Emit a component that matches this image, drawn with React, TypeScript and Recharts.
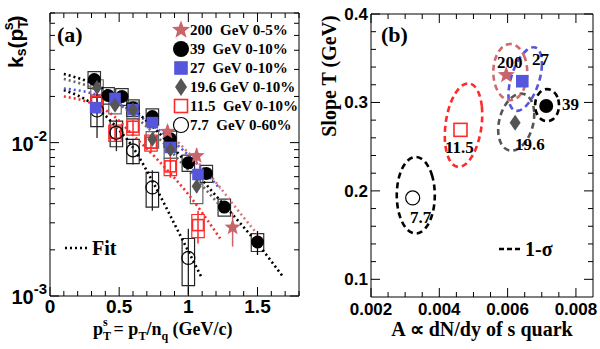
import React from 'react'
import { ComposedChart, Scatter, Line, XAxis, YAxis, ErrorBar, ReferenceArea } from 'recharts'

// ---------- panel (a): k_s vs pT/nq ----------
const PT_200 = [0.85, 1.06, 1.32]
const K_200 = [0.0118, 0.0082, 0.0028]
const STAT_200 = [0.0012, 0.001, 0.0007]

const PT_39 = [0.32, 0.42, 0.52, 0.6, 0.74, 0.87, 1.0, 1.13, 1.26, 1.5]
const K_39 = [0.0258, 0.0203, 0.02, 0.0169, 0.0148, 0.0106, 0.0074, 0.0063, 0.0038, 0.00225]
const STAT_39 = [0.0006, 0.0004, 0.0004, 0.0003, 0.0003, 0.0003, 0.0003, 0.0003, 0.0003, 0.0004]
const SYS_39 = [0.0032, 0.0025, 0.0025, 0.0021, 0.0018, 0.0013, 0.0009, 0.0008, 0.00048, 0.0003]

const PT_27 = [0.33, 0.47, 0.6, 0.74, 0.87, 1.07]
const K_27 = [0.0169, 0.0194, 0.0164, 0.0135, 0.0093, 0.0062]
const STAT_27 = [0.0008, 0.0006, 0.0005, 0.0005, 0.0004, 0.0004]

const PT_19 = [0.34, 0.47, 0.6, 0.74, 0.87, 1.06]
const K_19 = [0.0229, 0.0175, 0.0164, 0.0105, 0.009, 0.0052]
const STAT_19 = [0.0008, 0.0006, 0.0005, 0.0004, 0.0004, 0.0005]
const SYS_19 = [0.0028, 0.0021, 0.002, 0.0013, 0.0011, 0.0012]

const PT_11 = [0.34, 0.47, 0.6, 0.73, 0.87, 1.07]
const K_11 = [0.0183, 0.0116, 0.0127, 0.01, 0.007, 0.0029]
const STAT_11 = [0.003, 0.0015, 0.0014, 0.0012, 0.0011, 0.0007]
const SYS_11 = [0.0022, 0.0014, 0.0015, 0.0012, 0.0009, 0.0005]

const PT_7 = [0.34, 0.48, 0.6, 0.74, 1.0]
const K_7 = [0.0162, 0.0116, 0.0089, 0.0051, 0.00177]
const STAT_7 = [[0.0055, 0.0075], [0.0028, 0.0026], [0.0017, 0.0017], [0.0015, 0.0015], [0.00075, 0.00097]]
const SYS_7 = [0.0035, 0.0022, 0.0016, 0.0013, 0.0006]

// fit curves
const FITX_39 = [0.1, 0.3, 0.5, 0.75, 1.0, 1.25, 1.5, 1.68]
const FIT_39 = [0.028, 0.0245, 0.0195, 0.0125, 0.0072, 0.004, 0.0022, 0.00135]
const FITX_19 = [0.1, 0.3, 0.5, 0.75, 1.0, 1.25]
const FIT_19 = [0.026, 0.0228, 0.0178, 0.0115, 0.0066, 0.0037]
const FITX_27 = [0.1, 0.3, 0.5, 0.75, 1.0, 1.23]
const FIT_27 = [0.0225, 0.021, 0.0178, 0.0128, 0.0083, 0.005]
const FITX_200 = [0.85, 1.0, 1.2, 1.35, 1.52]
const FIT_200 = [0.0118, 0.0086, 0.0055, 0.0037, 0.0024]
const FITX_11 = [0.1, 0.3, 0.45, 0.6, 0.78, 1.0, 1.24]
const FIT_11 = [0.02, 0.018, 0.0152, 0.0112, 0.0077, 0.0046, 0.0023]
const FITX_7 = [0.1, 0.3, 0.45, 0.6, 0.75, 0.94, 1.1]
const FIT_7 = [0.022, 0.018, 0.0135, 0.0093, 0.0054, 0.0025, 0.0013]

const A_XTICKS = [0, 0.1, 0.2, 0.3, 0.4, 0.5, 0.6, 0.7, 0.8, 0.9, 1, 1.1, 1.2, 1.3, 1.4, 1.5, 1.6, 1.7, 1.8]
const A_XMAJOR = [0, 0.5, 1, 1.5]
const A_YTICKS = [0.001, 0.002, 0.003, 0.004, 0.005, 0.006, 0.007, 0.008, 0.009, 0.01, 0.02, 0.03, 0.04, 0.05, 0.06, 0.07]
const A_YMAJOR = [0.001, 0.01]

// ---------- panel (b): slope T vs A ----------
const B_LABELS = ['200', '39', '27', '19.6', '11.5', '7.7']
const B_A = [0.00596, 0.00713, 0.00643, 0.00622, 0.00462, 0.00322]
const B_T = [0.331, 0.296, 0.324, 0.277, 0.269, 0.192]

// 1-sigma contours
const ELL_200 = [[0.006598, 0.3343], [0.006528, 0.351], [0.006338, 0.3631], [0.006078, 0.3676], [0.005818, 0.3631], [0.005628, 0.351], [0.005558, 0.3343], [0.005628, 0.3177], [0.005818, 0.3055], [0.006078, 0.301], [0.006338, 0.3055], [0.006528, 0.3177]]
const ELL_39 = [[0.007522, 0.2969], [0.007473, 0.3064], [0.007339, 0.3134], [0.007155, 0.3159], [0.006971, 0.3134], [0.006837, 0.3064], [0.006788, 0.2969], [0.006837, 0.2874], [0.006971, 0.2804], [0.007155, 0.2779], [0.007339, 0.2804], [0.007473, 0.2874]]
const ELL_27 = [[0.006922, 0.3213], [0.007024, 0.3406], [0.006989, 0.3562], [0.006827, 0.3637], [0.006581, 0.3613], [0.006318, 0.3495], [0.006108, 0.3315], [0.006006, 0.3122], [0.006041, 0.2967], [0.006203, 0.2891], [0.006449, 0.2915], [0.006712, 0.3033]]
const ELL_19 = [[0.006754, 0.2725], [0.006802, 0.2898], [0.006702, 0.3039], [0.006482, 0.311], [0.0062, 0.3092], [0.005932, 0.2989], [0.00575, 0.2829], [0.005702, 0.2656], [0.005802, 0.2515], [0.006022, 0.2444], [0.006304, 0.2462], [0.006572, 0.2565]]
const ELL_11 = [[0.005254, 0.2713], [0.005271, 0.2964], [0.005136, 0.3156], [0.004888, 0.3237], [0.004591, 0.3186], [0.004326, 0.3016], [0.004164, 0.2773], [0.004147, 0.2522], [0.004282, 0.233], [0.00453, 0.2249], [0.004827, 0.23], [0.005092, 0.247]]
const ELL_7 = [[0.003894, 0.195], [0.003816, 0.2177], [0.003603, 0.2342], [0.003311, 0.2403], [0.00302, 0.2342], [0.002806, 0.2177], [0.002728, 0.195], [0.002806, 0.1724], [0.00302, 0.1558], [0.003311, 0.1497], [0.003603, 0.1558], [0.003816, 0.1724]]

const B_XTICKS = [0.002, 0.0025, 0.003, 0.0035, 0.004, 0.0045, 0.005, 0.0055, 0.006, 0.0065, 0.007, 0.0075, 0.008]
const B_XMAJOR = [0.002, 0.004, 0.006, 0.008]
const B_YTICKS = [0.1, 0.12, 0.14, 0.16, 0.18, 0.2, 0.22, 0.24, 0.26, 0.28, 0.3, 0.32, 0.34, 0.36, 0.38, 0.4]
const B_YMAJOR = [0.1, 0.2, 0.3, 0.4]

const serif = '"Liberation Serif", "Times New Roman", serif'
const sans = '"Liberation Sans", Arial, sans-serif'
const C200 = '#c8646a'
const CBLUE = '#5555dd'
const CGRAY = '#555555'
const CRED = '#ff2a2a'
const BOX_W = 0.045

const rows = (xs: number[], ys: number[], err?: any[]) =>
  xs.map((x, i) => ({ x, y: ys[i], err: err ? err[i] : 0 }))

// marker shapes
const starPath = (cx: number, cy: number, R: number) => {
  let d = ''
  for (let k = 0; k < 10; k++) {
    const a = -Math.PI / 2 + (k * Math.PI) / 5
    const r = k % 2 ? R * 0.42 : R
    d += (k ? 'L' : 'M') + (cx + r * Math.cos(a)).toFixed(2) + ',' + (cy + r * Math.sin(a)).toFixed(2)
  }
  return d + 'Z'
}
const star = (R: number) => (p: any) => <path d={starPath(p.cx, p.cy, R)} fill={C200} />
const dot = (r: number) => (p: any) => <circle cx={p.cx} cy={p.cy} r={r} fill="#000" />
const square = (s: number, fill: string, stroke: string) => (p: any) => (
  <rect x={p.cx - s / 2} y={p.cy - s / 2} width={s} height={s} fill={fill} stroke={stroke} strokeWidth={1.6} />
)
const diamond = (w: number, h: number) => (p: any) => (
  <path d={`M${p.cx},${p.cy - h / 2}L${p.cx + w / 2},${p.cy}L${p.cx},${p.cy + h / 2}L${p.cx - w / 2},${p.cy}Z`} fill={CGRAY} />
)
const ring = (r: number) => (p: any) => <circle cx={p.cx} cy={p.cy} r={r} fill="none" stroke="#000" strokeWidth={1.2} />

// inward frame ticks, labels only on major ticks
const frameTick = (side: string, major: number[], label?: (v: number, x: number, y: number) => React.ReactNode) => (p: any) => {
  const { x, y, payload } = p
  const v = payload.value
  const isMajor = major.some((m) => Math.abs(m - v) < 1e-9)
  const len = isMajor ? 9 : 5
  const dx = side === 'left' ? len : side === 'right' ? -len : 0
  const dy = side === 'bottom' ? -len : side === 'top' ? len : 0
  return (
    <g>
      <line x1={x} y1={y} x2={x + dx} y2={y + dy} stroke="#000" strokeWidth={1} />
      {label && isMajor ? label(v, x, y) : null}
    </g>
  )
}

const fitLine = (xs: number[], ys: number[], color: string, key: string) => (
  <Line key={key} data={rows(xs, ys)} dataKey="y" type="monotone" dot={false} stroke={color}
    strokeWidth={2.6} strokeDasharray="2 3" isAnimationActive={false} />
)

const boxes = (xs: number[], ys: number[], sys: number[], color: string, key: string) =>
  xs.map((x, i) => (
    <ReferenceArea key={key + i} x1={x - BOX_W} x2={x + BOX_W} y1={ys[i] - sys[i]} y2={ys[i] + sys[i]}
      fill="none" fillOpacity={0} stroke={color} strokeWidth={1.2} />
  ))

const ellipse = (pts: number[][], color: string, key: string) => (
  <Line key={key} data={pts.map(([x, y]) => ({ x, y }))} dataKey="y" type="basisClosed" dot={false}
    stroke={color} strokeWidth={2.6} strokeDasharray="6 4" isAnimationActive={false} />
)

const LEGEND_A = [
  { text: '200  GeV 0-5%', shape: star(9.5) },
  { text: '39  GeV 0-10%', shape: dot(8) },
  { text: '27  GeV 0-10%', shape: square(12, CBLUE, CBLUE) },
  { text: '19.6 GeV 0-10%', shape: diamond(12, 18) },
  { text: '11.5  GeV 0-10%', shape: square(13, 'none', CRED) },
  { text: '7.7  GeV 0-60%', shape: ring(7.5) },
]

const axisProps = {
  interval: 0 as const, allowDataOverflow: true, tickLine: false, tickSize: 0, tickMargin: 0,
  axisLine: { stroke: '#000', strokeWidth: 1 },
}

function PanelA() {
  return (
    <ComposedChart width={300} height={349} margin={{ top: 12, right: 0, bottom: 52, left: 49 }}>
      <XAxis type="number" dataKey="x" domain={[0, 1.8]} ticks={A_XTICKS} height={1} {...axisProps}
        tick={frameTick('bottom', A_XMAJOR, (v, x, y) => (
          <text x={x} y={y + 17} textAnchor="middle" fontFamily={sans} fontWeight="bold" fontSize={19}>{String(v)}</text>
        ))} />
      <XAxis xAxisId="top" orientation="top" type="number" dataKey="x" domain={[0, 1.8]} ticks={A_XTICKS}
        height={1} {...axisProps} tick={frameTick('top', A_XMAJOR)} />
      <YAxis type="number" dataKey="y" scale="log" domain={[0.001, 0.07]} ticks={A_YTICKS} width={1} {...axisProps}
        tick={frameTick('left', A_YMAJOR, (v, x, y) => (
          <text x={x - 3} y={y + 8} textAnchor="end" fontFamily={sans} fontWeight="bold" fontSize={20}>
            10<tspan dy={-10} fontSize={15}>{v === 0.01 ? '-2' : '-3'}</tspan>
          </text>
        ))} />
      <YAxis yAxisId="right" orientation="right" type="number" dataKey="y" scale="log" domain={[0.001, 0.07]}
        ticks={A_YTICKS} width={1} {...axisProps} tick={frameTick('right', A_YMAJOR)} />

      {boxes(PT_7, K_7, SYS_7, '#222', 'b7')}
      {boxes(PT_11, K_11, SYS_11, CRED, 'b11')}
      {boxes(PT_19, K_19, SYS_19, '#666', 'b19')}
      {boxes(PT_39, K_39, SYS_39, '#333', 'b39')}

      {fitLine(FITX_7, FIT_7, '#000', 'f7')}
      {fitLine(FITX_11, FIT_11, CRED, 'f11')}
      {fitLine(FITX_19, FIT_19, '#666', 'f19')}
      {fitLine(FITX_27, FIT_27, CBLUE, 'f27')}
      {fitLine(FITX_39, FIT_39, '#000', 'f39')}
      {fitLine(FITX_200, FIT_200, '#d47a7e', 'f200')}

      <Scatter data={rows(PT_11, K_11, STAT_11)} shape={square(11, 'none', CRED)} isAnimationActive={false}>
        <ErrorBar dataKey="err" direction="y" width={0} stroke={CRED} strokeWidth={1.5} />
      </Scatter>
      <Scatter data={rows(PT_7, K_7, STAT_7)} shape={ring(6.5)} isAnimationActive={false}>
        <ErrorBar dataKey="err" direction="y" width={0} stroke="#222" strokeWidth={1.3} />
      </Scatter>
      <Scatter data={rows(PT_39, K_39, STAT_39)} shape={dot(6.5)} isAnimationActive={false}>
        <ErrorBar dataKey="err" direction="y" width={0} stroke="#000" strokeWidth={1.3} />
      </Scatter>
      <Scatter data={rows(PT_27, K_27, STAT_27)} shape={square(10, CBLUE, CBLUE)} isAnimationActive={false}>
        <ErrorBar dataKey="err" direction="y" width={0} stroke={CBLUE} strokeWidth={1.3} />
      </Scatter>
      <Scatter data={rows(PT_19, K_19, STAT_19)} shape={diamond(10, 15)} isAnimationActive={false}>
        <ErrorBar dataKey="err" direction="y" width={0} stroke={CGRAY} strokeWidth={1.3} />
      </Scatter>
      <Scatter data={rows(PT_200, K_200, STAT_200)} shape={star(8.5)} isAnimationActive={false}>
        <ErrorBar dataKey="err" direction="y" width={0} stroke={C200} strokeWidth={1.5} />
      </Scatter>
    </ComposedChart>
  )
}

const B_SHAPES = [star(9), dot(7), square(11, CBLUE, CBLUE), diamond(11, 16), square(13, 'none', CRED), ring(7)]

function PanelB() {
  return (
    <ComposedChart width={300} height={349} margin={{ top: 13, right: 6, bottom: 51, left: 70 }}>
      <XAxis type="number" dataKey="x" domain={[0.002, 0.0085]} ticks={B_XTICKS} height={1} {...axisProps}
        tick={frameTick('bottom', B_XMAJOR, (v, x, y) => (
          <text x={x} y={y + 18} textAnchor="middle" fontFamily={sans} fontWeight="bold" fontSize={17}>{v.toFixed(3)}</text>
        ))} />
      <XAxis xAxisId="top" orientation="top" type="number" dataKey="x" domain={[0.002, 0.0085]} ticks={B_XTICKS}
        height={1} {...axisProps} tick={frameTick('top', B_XMAJOR)} />
      <YAxis type="number" dataKey="y" domain={[0.08, 0.4]} ticks={B_YTICKS} width={1} {...axisProps}
        tick={frameTick('left', B_YMAJOR, (v, x, y) => (
          <text x={x - 3} y={y + 6} textAnchor="end" fontFamily={sans} fontWeight="bold" fontSize={17}>{v.toFixed(1)}</text>
        ))} />
      <YAxis yAxisId="right" orientation="right" type="number" dataKey="y" domain={[0.08, 0.4]} ticks={B_YTICKS}
        width={1} {...axisProps} tick={frameTick('right', B_YMAJOR)} />

      {ellipse(ELL_7, '#000', 'e7')}
      {ellipse(ELL_11, CRED, 'e11')}
      {ellipse(ELL_19, CGRAY, 'e19')}
      {ellipse(ELL_39, '#000', 'e39')}
      {ellipse(ELL_27, CBLUE, 'e27')}
      {ellipse(ELL_200, '#d06a6e', 'e200')}

      {B_LABELS.map((lab, i) => (
        <Scatter key={lab} data={[{ x: B_A[i], y: B_T[i] }]} shape={B_SHAPES[i]} isAnimationActive={false} />
      ))}
    </ComposedChart>
  )
}

const txt = { fontFamily: serif, fontWeight: 'bold' as const, whiteSpace: 'pre' as const }

export default function App() {
  return (
    <div style={{ position: 'absolute', left: 0, top: 0, width: 600, height: 349, background: '#fff' }}>
      <div style={{ position: 'absolute', left: 0, top: 0 }}><PanelA /></div>
      <div style={{ position: 'absolute', left: 300, top: 0 }}><PanelB /></div>
      <svg width={600} height={349} style={{ position: 'absolute', left: 0, top: 0, pointerEvents: 'none' }}>
        {/* panel (a) annotations */}
        <text x={57} y={42} fontSize={22} style={txt}>(a)</text>
        {LEGEND_A.map((e, i) => (
          <g key={e.text}>
            {e.shape({ cx: 181, cy: 30 + i * 19 })}
            <text x={190} y={35 + i * 19} fontSize={15} style={txt}>{e.text}</text>
          </g>
        ))}
        <line x1={65} x2={88} y1={248} y2={248} stroke="#000" strokeWidth={2.6} strokeDasharray="2 3" />
        <text x={92} y={255} fontSize={20} style={txt}>Fit</text>
        <text transform="translate(23,68) rotate(-90)" fontFamily={sans} fontWeight="bold" fontSize={21}>
          k<tspan dy={3} fontSize={14}>s</tspan><tspan dy={-3}>(p</tspan><tspan dy={5} fontSize={14}>T</tspan>
          <tspan dx={-9} dy={-15} fontSize={14}>s</tspan><tspan dy={10}>)</tspan>
        </text>
        <text x={93} y={335} fontSize={18} style={txt}>
          p<tspan dy={5} fontSize={12}>T</tspan><tspan dx={-7} dy={-14} fontSize={12}>s</tspan>
          <tspan dx={6} dy={9}>= p</tspan><tspan dy={5} fontSize={12}>T</tspan><tspan dy={-5}>/n</tspan>
          <tspan dy={5} fontSize={12}>q</tspan><tspan dy={-5}> (GeV/c)</tspan>
        </text>

        {/* panel (b) annotations */}
        <text x={381} y={42} fontSize={22} style={txt}>(b)</text>
        <text x={497} y={68} fontSize={17} style={txt}>200</text>
        <text x={532} y={65} fontSize={17} style={txt}>27</text>
        <text x={562} y={110} fontSize={17} style={txt}>39</text>
        <text x={515} y={150} fontSize={17} style={txt}>19.6</text>
        <text x={445} y={153} fontSize={17} style={txt}>11.5</text>
        <text x={410} y={223} fontSize={17} style={txt}>7.7</text>
        <line x1={499} x2={521} y1={249} y2={249} stroke="#000" strokeWidth={2.6} strokeDasharray="5 3" />
        <text x={525} y={256} fontSize={20} style={txt}>1-σ</text>
        <text transform="translate(336,76) rotate(-90)" textAnchor="middle" fontSize={20} style={txt}>Slope T (GeV)</text>
        <text x={482} y={336} textAnchor="middle" fontSize={20} style={txt}>A ∝ dN/dy of s quark</text>
      </svg>
    </div>
  )
}
